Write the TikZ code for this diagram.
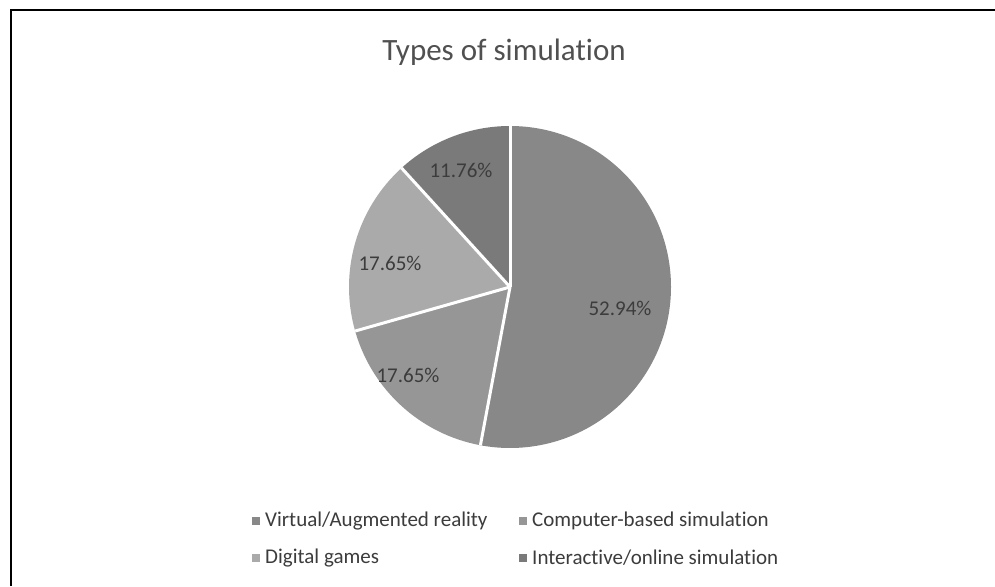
\documentclass[tikz,border=0pt]{standalone}
\usepackage{fontspec}
\setmainfont{Carlito}[Ligatures=NoCommon]
\definecolor{vrgray}{RGB}{136,136,136}
\definecolor{cbgray}{RGB}{150,150,150}
\definecolor{dggray}{RGB}{170,170,170}
\definecolor{iogray}{RGB}{122,122,122}
\definecolor{titlegray}{RGB}{80,80,80}
\definecolor{labelgray}{RGB}{60,60,60}
\tikzset{
  slice/.style={draw=white, line width=3pt, line join=miter},
  pct/.style={font=\fontsize{21}{25}\selectfont, text=labelgray, inner sep=0pt},
  legtext/.style={font=\fontsize{21}{25}\selectfont, text=labelgray, anchor=west, inner sep=0pt},
  legmark/.style={minimum size=7.5pt, inner sep=0pt, draw=none}
}
\begin{document}
\begin{tikzpicture}[x=1pt, y=-1pt]
  \useasboundingbox (0,0) rectangle (995,586);
  \fill[white] (0,0) rectangle (995,586);
  % frame on the top and left sides
  \draw[line width=2.8pt, black] (11,586) -- (11,10) -- (995,10);

  % title
  \node[font=\fontsize{31}{36}\selectfont, text=titlegray, inner sep=0pt] (title) at (504,52) {Types of simulation};

  % pie
  \coordinate (pc) at (510,287);
  \fill[vrgray] (pc) -- ++(90:161pt) arc[start angle=90, end angle=-100.59, radius=161pt] -- cycle;
  \fill[cbgray] (pc) -- ++(-100.59:161pt) arc[start angle=-100.59, end angle=-164.12, radius=161pt] -- cycle;
  \fill[dggray] (pc) -- ++(-164.12:161pt) arc[start angle=-164.12, end angle=-227.65, radius=161pt] -- cycle;
  \fill[iogray] (pc) -- ++(132.35:161pt) arc[start angle=132.35, end angle=90, radius=161pt] -- cycle;
  \draw[slice] (pc) -- ++(90:161pt);
  \draw[slice] (pc) -- ++(-100.59:161pt);
  \draw[slice] (pc) -- ++(-164.12:161pt);
  \draw[slice] (pc) -- ++(132.35:161pt);

  % percentages
  \node[pct] (lvr) at (620,308) {52.94\%};
  \node[pct] (lcb) at (408,375) {17.65\%};
  \node[pct] (ldg) at (390,263) {17.65\%};
  \node[pct] (lio) at (461,170) {11.76\%};

  % legend
  \node[legmark, fill=vrgray] (m1) at (256,521) {};
  \node[legtext] (t1) at (265,521) {Virtual/Augmented reality};
  \node[legmark, fill=cbgray] (m2) at (523,521) {};
  \node[legtext] (t2) at (532,521) {Computer-based simulation};
  \node[legmark, fill=dggray] (m3) at (256,558) {};
  \node[legtext] (t3) at (265,558) {Digital games};
  \node[legmark, fill=iogray] (m4) at (523,558) {};
  \node[legtext] (t4) at (532,558) {Interactive/online simulation};
\end{tikzpicture}
\end{document}
